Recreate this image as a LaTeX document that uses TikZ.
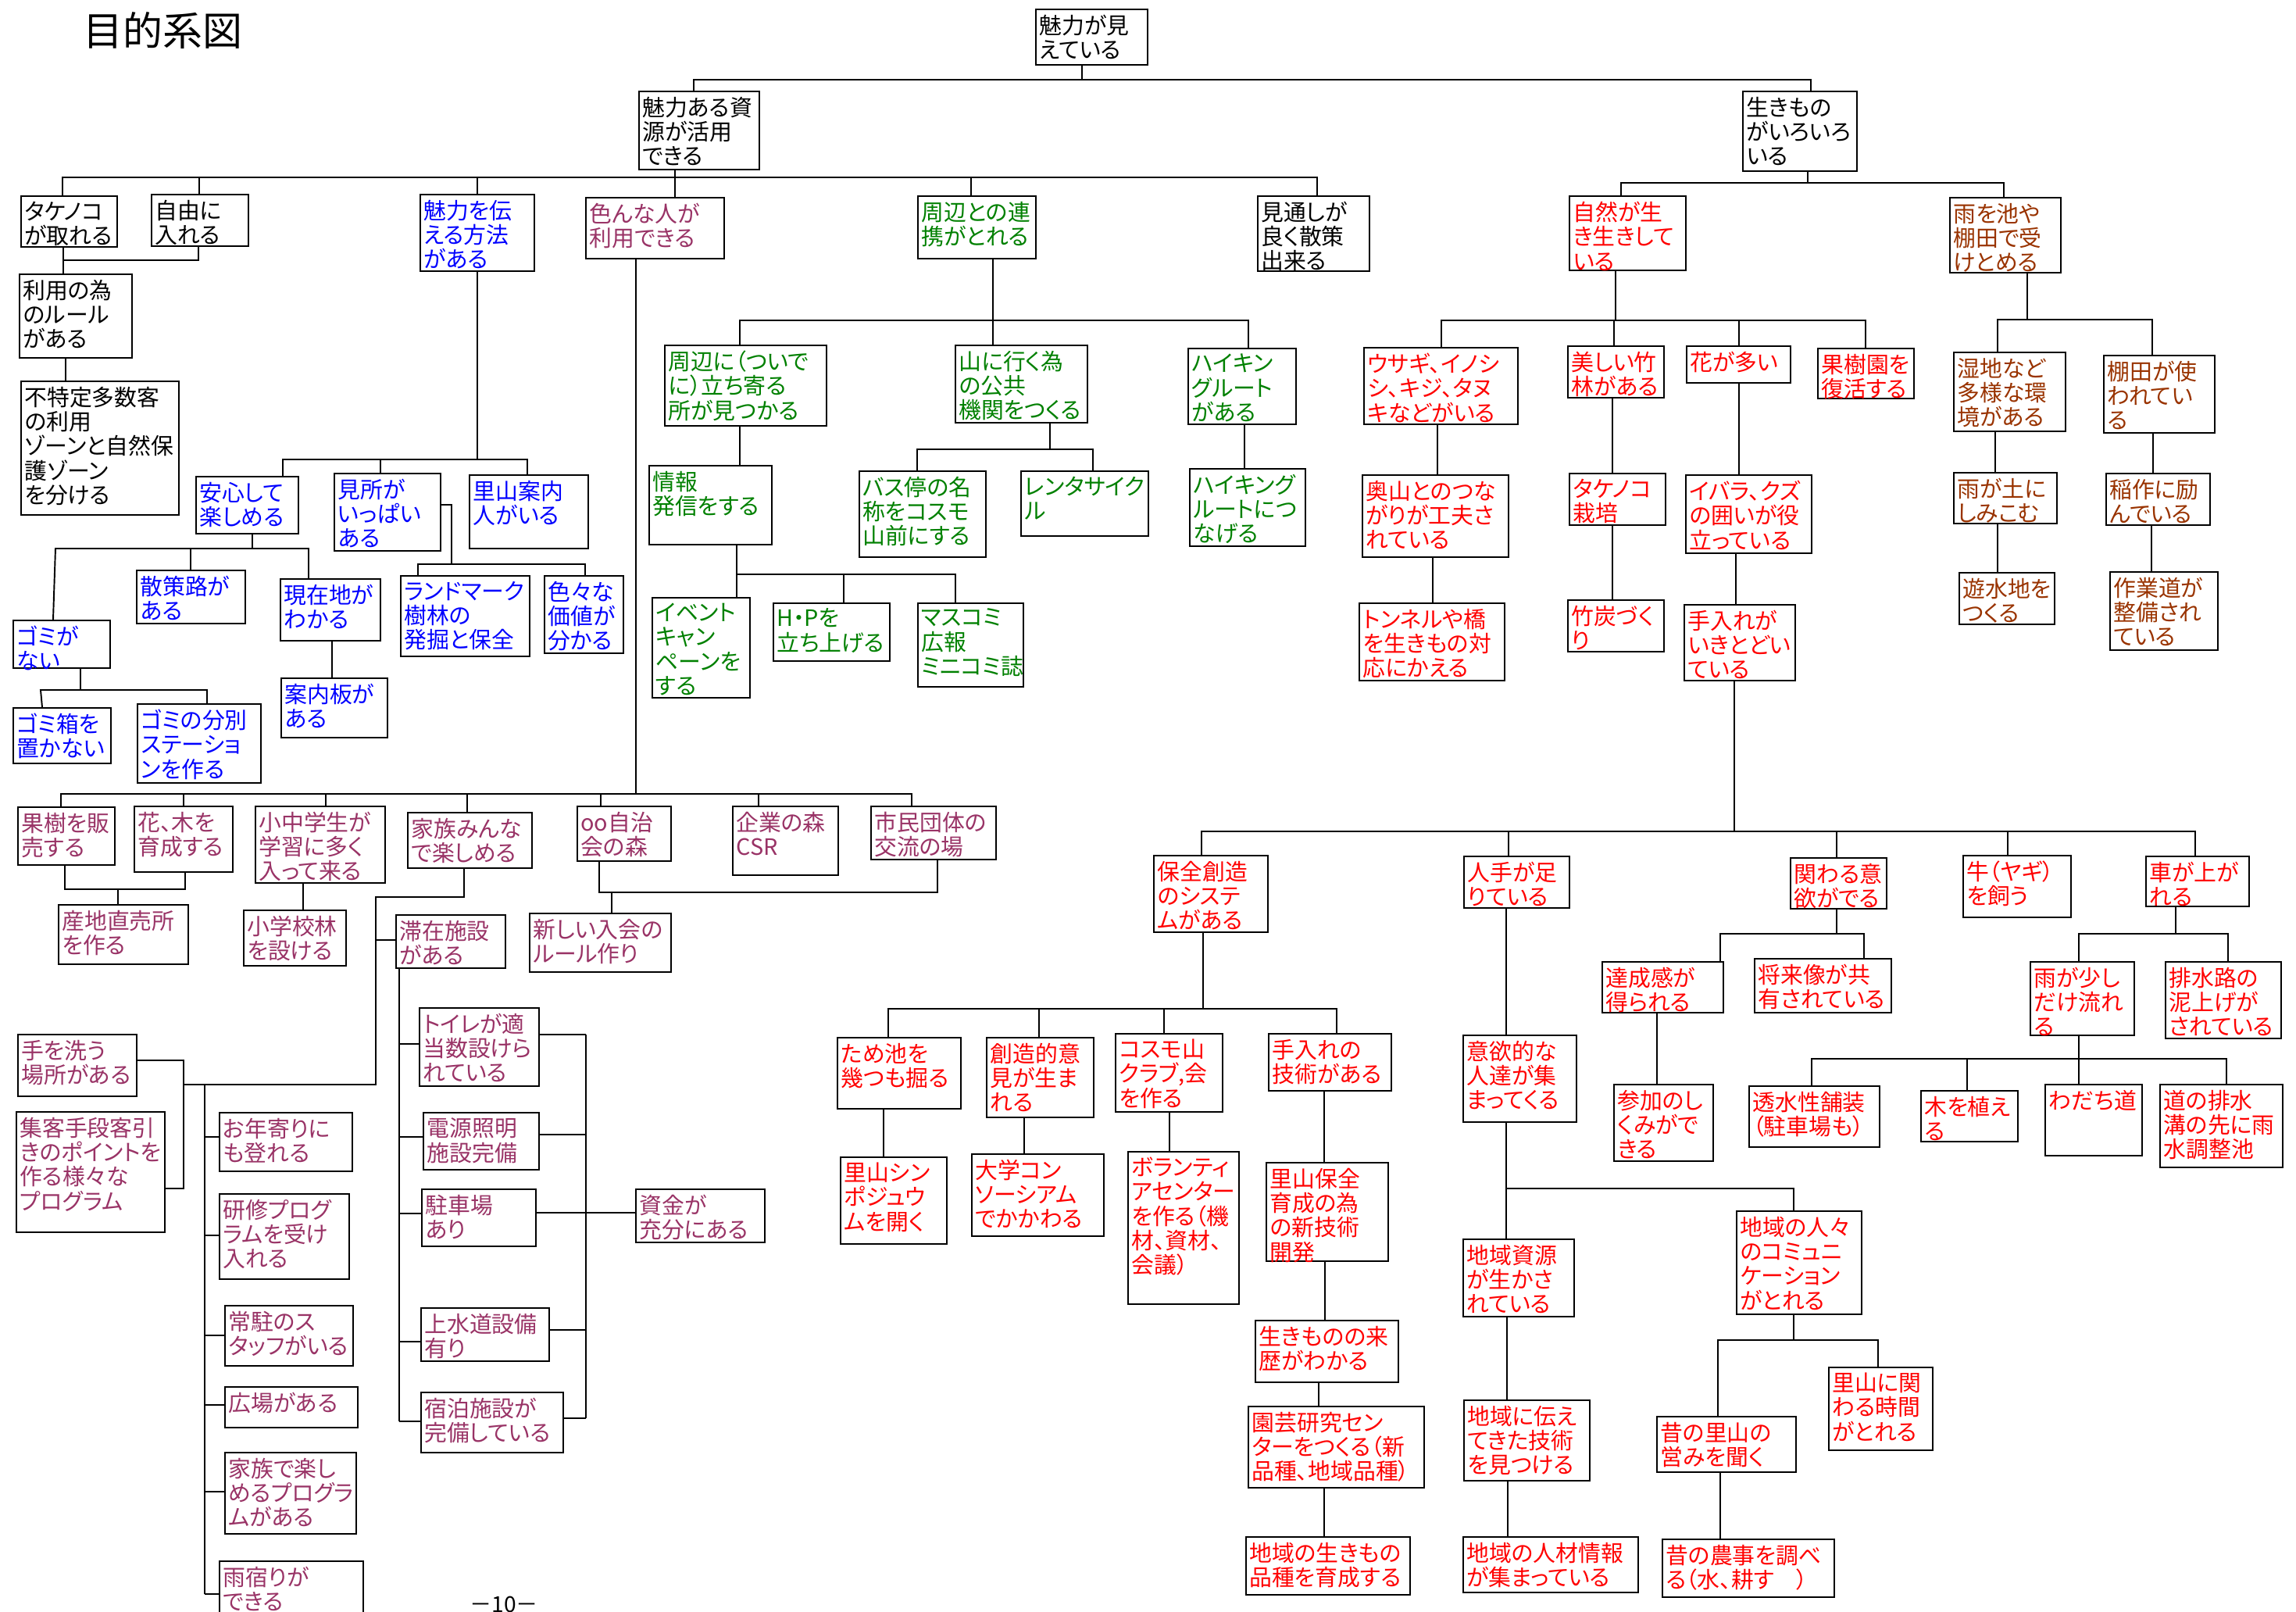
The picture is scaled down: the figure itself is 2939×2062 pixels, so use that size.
\documentclass[tikz,border=0pt]{standalone}
\usepackage{fontspec}
\setmainfont{Noto Sans CJK JP}[RawFeature=+palt]
\usetikzlibrary{fit}

\definecolor{bluet}{RGB}{0,0,255}
\definecolor{plum}{RGB}{153,51,102}
\definecolor{leaf}{RGB}{0,128,0}
\definecolor{redt}{RGB}{255,0,0}
\definecolor{rust}{RGB}{153,51,0}

\tikzset{
  goalbox/.style={draw, line width=0.6pt, inner sep=0pt},
  goaltext/.style={anchor=north west, align=left, inner xsep=1.3pt, inner ysep=2pt,
    font=\fontsize{8.2}{8.9}\selectfont},
  link/.style={line width=0.55pt}
}
% box: [colour]{name}{x1}{y1}{x2}{y2}{text}
\newcommand{\goal}[7][black]{%
  \node[goalbox, fit={(#3,#4) (#5,#6)}] (#2) {};
  \node[goaltext, text=#1] at (#2.north west) {#7};
}

\begin{document}
\begin{tikzpicture}[x=0.01cm, y=-0.01cm, link]
    \useasboundingbox (0,0) rectangle (2939,2062);
    \node[anchor=west, inner sep=0pt, font=\fontsize{14.5}{16}\selectfont] (title) at (106,39) {目的系図};
    \node[font=\fontsize{8}{9}\selectfont] (pageno) at (645,2053) {－10－};

    % top
    \goal{top}{1326}{12}{1469}{83}{魅力が見\\えている}
    \goal{shigen}{818}{117}{972}{217}{魅力ある資\\源が活用\\できる}
    \goal{ikimono}{2231}{117}{2377}{219}{生きもの\\がいろいろ\\いる}
    \goal{takenoko}{27}{251}{150}{316}{タケノコ\\が取れる}
    \goal{jiyu}{194}{249}{318}{315}{自由に\\入れる}
    \goal{rule}{25}{351}{169}{458}{利用の為\\のルール\\がある}
    \goal{zone}{27}{488}{229}{659}{不特定多数客\\の利用\\ゾーンと自然保\\護ゾーン\\を分ける}
    \goal{mitoshi}{1610}{251}{1753}{347}{見通しが\\良く散策\\出来る}

    % blue
    \goal[bluet]{tsutaeru}{538}{249}{684}{347}{魅力を伝\\える方法\\がある}
    \goal[bluet]{anshin}{251}{610}{382}{683}{安心して\\楽しめる}
    \goal[bluet]{midokoro}{428}{606}{564}{705}{見所が\\いっぱい\\ある}
    \goal[bluet]{annainin}{601}{608}{753}{702}{里山案内\\人がいる}
    \goal[bluet]{gomi}{17}{794}{141}{855}{ゴミが\\ない}
    \goal[bluet]{sansaku}{175}{730}{314}{798}{散策路が\\ある}
    \goal[bluet]{genzai}{359}{741}{487}{820}{現在地が\\わかる}
    \goal[bluet]{landmark}{513}{737}{678}{840}{ランドマーク\\樹林の\\発掘と保全}
    \goal[bluet]{kachi}{697}{737}{798}{836}{色々な\\価値が\\分かる}
    \goal[bluet]{gomibako}{17}{906}{142}{977}{ゴミ箱を\\置かない}
    \goal[bluet]{bunbetsu}{176}{901}{334}{1002}{ゴミの分別\\ステーショ\\ンを作る}
    \goal[bluet]{annaiban}{360}{868}{496}{944}{案内板が\\ある}

    % plum
    \goal[plum]{iron}{750}{253}{927}{331}{色んな人が\\利用できる}
    \goal[plum]{kaju}{23}{1033}{147}{1107}{果樹を販\\売する}
    \goal[plum]{hanaki}{172}{1032}{298}{1116}{花、木を\\育成する}
    \goal[plum]{shochu}{327}{1032}{493}{1130}{小中学生が\\学習に多く\\入って来る}
    \goal[plum]{kazoku}{522}{1040}{681}{1111}{家族みんな\\で楽しめる}
    \goal[plum]{jichikai}{739}{1032}{859}{1102}{oo自治\\会の森}
    \goal[plum]{kigyo}{938}{1032}{1073}{1120}{企業の森\\CSR}
    \goal[plum]{shimin}{1115}{1032}{1275}{1100}{市民団体の\\交流の場}
    \goal[plum]{chokubai}{75}{1158}{241}{1234}{産地直売所\\を作る}
    \goal[plum]{gakkorin}{312}{1165}{443}{1236}{小学校林\\を設ける}
    \goal[plum]{nyukai}{678}{1169}{859}{1244}{新しい入会の\\ルール作り}
    \goal[plum]{taizai}{507}{1171}{647}{1239}{滞在施設\\がある}
    \goal[plum]{tearai}{23}{1324}{175}{1403}{手を洗う\\場所がある}
    \goal[plum]{shukyaku}{21}{1423}{211}{1577}{集客手段客引\\きのポイントを\\作る様々な\\プログラム}
    \goal[plum]{otoshiyori}{281}{1424}{451}{1499}{お年寄りに\\も登れる}
    \goal[plum]{kenshu}{281}{1528}{447}{1637}{研修プログ\\ラムを受け\\入れる}
    \goal[plum]{jochu}{288}{1671}{452}{1748}{常駐のス\\タッフがいる}
    \goal[plum]{hiroba}{288}{1775}{458}{1827}{広場がある}
    \goal[plum]{kazokuprog}{288}{1859}{456}{1963}{家族で楽し\\めるプログラ\\ムがある}
    \goal[plum]{amayadori}{281}{1998}{465}{2075}{雨宿りが\\できる}
    \goal[plum]{toilet}{537}{1290}{690}{1390}{トイレが適\\当数設けら\\れている}
    \goal[plum]{dengen}{542}{1424}{690}{1497}{電源照明\\施設完備}
    \goal[plum]{chushajo}{540}{1522}{686}{1595}{駐車場\\あり}
    \goal[plum]{josuido}{539}{1674}{703}{1742}{上水道設備\\有り}
    \goal[plum]{shukuhaku}{539}{1782}{721}{1859}{宿泊施設が\\完備している}
    \goal[plum]{shikin}{814}{1522}{979}{1590}{資金が\\充分にある}

    % leaf
    \goal[leaf]{renkei}{1175}{251}{1326}{331}{周辺との連\\携がとれる}
    \goal[leaf]{tachiyoru}{851}{442}{1058}{545}{周辺に（ついで\\に）立ち寄る\\所が見つかる}
    \goal[leaf]{yamani}{1223}{442}{1392}{541}{山に行く為\\の公共\\機関をつくる}
    \goal[leaf]{hiking}{1521}{446}{1659}{543}{ハイキン\\グルート\\がある}
    \goal[leaf]{joho}{831}{596}{988}{697}{情報\\発信をする}
    \goal[leaf]{busstop}{1100}{603}{1262}{713}{バス停の名\\称をコスモ\\山前にする}
    \goal[leaf]{rental}{1307}{603}{1470}{686}{レンタサイク\\ル}
    \goal[leaf]{hikingroute}{1523}{600}{1671}{699}{ハイキング\\ルートにつ\\なげる}
    \goal[leaf]{event}{835}{765}{960}{893}{イベント\\キャン\\ペーンを\\する}
    \goal[leaf]{hp}{990}{772}{1139}{846}{H・Pを\\立ち上げる}
    \goal[leaf]{masukomi}{1175}{772}{1310}{879}{マスコミ\\広報\\ミニコミ誌}

    % red
    \goal[redt]{shizen}{2009}{251}{2158}{346}{自然が生\\き生きして\\いる}
    \goal[redt]{usagi}{1746}{445}{1943}{543}{ウサギ、イノシ\\シ、キジ、タヌ\\キなどがいる}
    \goal[redt]{chikurin}{2007}{443}{2130}{509}{美しい竹\\林がある}
    \goal[redt]{hana}{2159}{443}{2292}{490}{花が多い}
    \goal[redt]{kajuen}{2327}{446}{2450}{510}{果樹園を\\復活する}
    \goal[redt]{okuyama}{1744}{608}{1931}{713}{奥山とのつな\\がりが工夫さ\\れている}
    \goal[redt]{tonneru}{1740}{772}{1926}{871}{トンネルや橋\\を生きもの対\\応にかえる}
    \goal[redt]{saibai}{2009}{606}{2132}{672}{タケノコ\\栽培}
    \goal[redt]{chikutan}{2007}{768}{2130}{834}{竹炭づく\\り}
    \goal[redt]{ibara}{2158}{608}{2319}{708}{イバラ、クズ\\の囲いが役\\立っている}
    \goal[redt]{teire}{2156}{774}{2298}{871}{手入れが\\いきとどい\\ている}
    \goal[redt]{hozen}{1477}{1095}{1623}{1193}{保全創造\\のシステ\\ムがある}
    \goal[redt]{hitode}{1874}{1096}{2009}{1162}{人手が足\\りている}
    \goal[redt]{kakawaru}{2292}{1098}{2415}{1163}{関わる意\\欲がでる}
    \goal[redt]{ushi}{2513}{1095}{2651}{1174}{牛（ヤギ）\\を飼う}
    \goal[redt]{kuruma}{2747}{1096}{2879}{1160}{車が上が\\れる}
    \goal[redt]{tameike}{1072}{1328}{1230}{1419}{ため池を\\幾つも掘る}
    \goal[redt]{sozo}{1263}{1328}{1400}{1430}{創造的意\\見が生ま\\れる}
    \goal[redt]{cosmo}{1428}{1323}{1565}{1423}{コスモ山\\クラブ,会\\を作る}
    \goal[redt]{gijutsu}{1624}{1323}{1781}{1396}{手入れの\\技術がある}
    \goal[redt]{iyoku}{1873}{1325}{2018}{1436}{意欲的な\\人達が集\\まってくる}
    \goal[redt]{tassei}{2051}{1231}{2206}{1296}{達成感が\\得られる}
    \goal[redt]{shorai}{2246}{1227}{2421}{1296}{将来像が共\\有されている}
    \goal[redt]{amesukoshi}{2599}{1231}{2732}{1325}{雨が少し\\だけ流れ\\る}
    \goal[redt]{haisuiro}{2772}{1231}{2920}{1329}{排水路の\\泥上げが\\されている}
    \goal[redt]{symposium}{1076}{1481}{1212}{1592}{里山シン\\ポジュウ\\ムを開く}
    \goal[redt]{daigaku}{1244}{1477}{1413}{1582}{大学コン\\ソーシアム\\でかかわる}
    \goal[redt]{volunteer}{1444}{1474}{1586}{1669}{ボランティ\\アセンター\\を作る（機\\材、資材、\\会議）}
    \goal[redt]{shingijutsu}{1621}{1488}{1777}{1614}{里山保全\\育成の為\\の新技術\\開発}
    \goal[redt]{raireki}{1607}{1690}{1790}{1769}{生きものの来\\歴がわかる}
    \goal[redt]{engei}{1598}{1800}{1823}{1904}{園芸研究セン\\ターをつくる（新\\品種、地域品種）}
    \goal[redt]{hinshu}{1595}{1967}{1805}{2041}{地域の生きもの\\品種を育成する}
    \goal[redt]{sanka}{2066}{1388}{2193}{1486}{参加のし\\くみがで\\きる}
    \goal[redt]{toshui}{2239}{1390}{2406}{1468}{透水性舗装\\（駐車場も）}
    \goal[redt]{kiwo}{2459}{1396}{2583}{1461}{木を植え\\る}
    \goal[redt]{wadachi}{2618}{1388}{2742}{1479}{わだち道}
    \goal[redt]{chosei}{2765}{1388}{2922}{1494}{道の排水\\溝の先に雨\\水調整池}
    \goal[redt]{chiikishigen}{1873}{1586}{2015}{1685}{地域資源\\が生かさ\\れている}
    \goal[redt]{tsutaete}{1874}{1792}{2035}{1895}{地域に伝え\\てきた技術\\を見つける}
    \goal[redt]{jinzai}{1873}{1967}{2097}{2038}{地域の人材情報\\が集まっている}
    \goal[redt]{komyu}{2223}{1550}{2383}{1682}{地域の人々\\のコミュニ\\ケーション\\がとれる}
    \goal[redt]{mukashi}{2121}{1813}{2299}{1884}{昔の里山の\\営みを聞く}
    \goal[redt]{jikan}{2341}{1750}{2474}{1856}{里山に関\\わる時間\\がとれる}
    \goal[redt]{nouji}{2128}{1970}{2348}{2044}{昔の農事を調べ\\る（水、耕す　）}

    % rust
    \goal[rust]{amewo}{2496}{253}{2638}{349}{雨を池や\\棚田で受\\けとめる}
    \goal[rust]{shicchi}{2501}{451}{2644}{552}{湿地など\\多様な環\\境がある}
    \goal[rust]{tanada}{2693}{455}{2835}{554}{棚田が使\\われてい\\る}
    \goal[rust]{shimikomu}{2501}{605}{2633}{670}{雨が土に\\しみこむ}
    \goal[rust]{inasaku}{2696}{606}{2829}{672}{稲作に励\\んでいる}
    \goal[rust]{yusuichi}{2508}{733}{2630}{799}{遊水地を\\つくる}
    \goal[rust]{sagyodo}{2701}{732}{2839}{832}{作業道が\\整備され\\ている}

    % top level links
    \draw (top.south -| 1385,0) -- (1385,102);
    \draw (shigen.north -| 888,0) -- (888,102) -- (2318,102) -- (ikimono.north -| 2318,0);
    \draw (shigen.south -| 864,0) -- (iron.north -| 864,0);
    \draw (takenoko.north -| 80,0) -- (80,227) -- (1686,227) -- (mitoshi.north -| 1686,0);
    \foreach \n/\x in {jiyu/255, tsutaeru/611, renkei/1243}
        \draw (\n.north -| \x,0) -- (\x,227);
    \draw (ikimono.south -| 2314,0) -- (2314,234);
    \draw (shizen.north -| 2075,0) -- (2075,234) -- (2565,234) -- (amewo.north -| 2565,0);

    % black branch
    \draw (takenoko.south -| 81,0) -- (rule.north -| 81,0);
    \draw (jiyu.south -| 254,0) -- (254,333) -- (81,333);
    \draw (rule.south -| 84,0) -- (zone.north -| 84,0);

    % blue branch
    \draw (tsutaeru.south -| 611,0) -- (611,588);
    \draw (anshin.north -| 362,0) -- (362,588) -- (675,588) -- (annainin.north -| 675,0);
    \draw (midokoro.north -| 487,0) -- (487,588);
    \draw (midokoro.east |- 0,646) -- (578,646) -- (578,722);
    \draw (landmark.north -| 535,0) -- (535,722) -- (749,722) -- (kachi.north -| 749,0);
    \draw (anshin.south -| 323,0) -- (323,702);
    \draw (gomi.north -| 68,0) -- (71,702) -- (395,702) -- (genzai.north -| 395,0);
    \draw (sansaku.north -| 244,0) -- (244,702);
    \draw (gomi.south -| 103,0) -- (103,883);
    \draw (gomibako.north -| 54,0) -- (52,883) -- (265,883) -- (bunbetsu.north -| 265,0);
    \draw (genzai.south -| 425,0) -- (annaiban.north -| 425,0);

    % plum branch
    \draw (iron.south -| 814,0) -- (814,1016);
    \draw (kaju.north -| 78,0) -- (78,1016) -- (1167,1016) -- (shimin.north -| 1167,0);
    \foreach \n/\x in {hanaki/235, shochu/417, kazoku/598, jichikai/769, kigyo/971}
        \draw (\n.north -| \x,0) -- (\x,1016);
    \draw (kaju.south -| 83,0) -- (83,1138) -- (237,1138) -- (hanaki.south -| 237,0);
    \draw (151,1138) -- (chokubai.north -| 151,0);
    \draw (shochu.south -| 388,0) -- (gakkorin.north -| 388,0);
    \draw (jichikai.south -| 767,0) -- (767,1142) -- (1200,1142) -- (shimin.south -| 1200,0);
    \draw (783,1142) -- (nyukai.north -| 783,0);
    \draw (kazoku.south -| 594,0) -- (594,1148) -- (481,1148) -- (481,1388) -- (235,1388);
    \draw (taizai.west |- 0,1203) -- (481,1203);
    \draw (tearai.east |- 0,1357) -- (235,1357) -- (235,1521) -- (shukyaku.east |- 0,1521);
    \draw (262,1388) -- (262,2040);
    \foreach \n/\y in {otoshiyori/1455, kenshu/1581, jochu/1709, hiroba/1798, kazokuprog/1909, amayadori/2040}
        \draw (262,\y) -- (\n.west |- 0,\y);
    \draw (taizai.south -| 511,0) -- (511,1819);
    \foreach \n/\y in {toilet/1336, dengen/1455, chushajo/1553, josuido/1717, shukuhaku/1819}
        \draw (511,\y) -- (\n.west |- 0,\y);
    \foreach \n/\y in {toilet/1324, dengen/1452, chushajo/1552, josuido/1702, shukuhaku/1815}
        \draw (\n.east |- 0,\y) -- (750,\y);
    \draw (750,1324) -- (750,1815);
    \draw (750,1552) -- (shikin.west |- 0,1552);

    % leaf branch
    \draw (renkei.south -| 1271,0) -- (yamani.north -| 1271,0);
    \draw (tachiyoru.north -| 947,0) -- (947,410) -- (1598,410) -- (hiking.north -| 1598,0);
    \draw (tachiyoru.south -| 947,0) -- (joho.north -| 947,0);
    \draw (joho.south -| 943,0) -- (event.north -| 943,0);
    \draw (943,735) -- (1223,735) -- (masukomi.north -| 1223,0);
    \draw (hp.north -| 1080,0) -- (1080,735);
    \draw (yamani.south -| 1344,0) -- (1344,575);
    \draw (busstop.north -| 1174,0) -- (1174,575) -- (1399,575) -- (rental.north -| 1399,0);
    \draw (hiking.south -| 1593,0) -- (hikingroute.north -| 1593,0);

    % red branch
    \draw (shizen.south -| 2068,0) -- (2068,410);
    \draw (usagi.north -| 1845,0) -- (1845,410) -- (2388,410) -- (kajuen.north -| 2388,0);
    \foreach \n/\x in {chikurin/2066, hana/2226}
        \draw (\n.north -| \x,0) -- (\x,410);
    \draw (usagi.south -| 1840,0) -- (okuyama.north -| 1840,0);
    \draw (okuyama.south -| 1834,0) -- (tonneru.north -| 1834,0);
    \draw (chikurin.south -| 2064,0) -- (saibai.north -| 2064,0);
    \draw (saibai.south -| 2064,0) -- (chikutan.north -| 2064,0);
    \draw (hana.south -| 2226,0) -- (ibara.north -| 2226,0);
    \draw (ibara.south -| 2222,0) -- (teire.north -| 2222,0);
    \draw (teire.south -| 2220,0) -- (2220,1064);
    \draw (hozen.north -| 1538,0) -- (1538,1064) -- (2810,1064) -- (kuruma.north -| 2810,0);
    \foreach \n/\x in {hitode/1931, kakawaru/2351, ushi/2570}
        \draw (\n.north -| \x,0) -- (\x,1064);
    \draw (hozen.south -| 1540,0) -- (1540,1291);
    \draw (tameike.north -| 1137,0) -- (1137,1291) -- (1711,1291) -- (gijutsu.north -| 1711,0);
    \foreach \n/\x in {sozo/1330, cosmo/1490}
        \draw (\n.north -| \x,0) -- (\x,1291);
    \draw (tameike.south -| 1131,0) -- (symposium.north -| 1131,0);
    \draw (sozo.south -| 1311,0) -- (daigaku.north -| 1311,0);
    \draw (cosmo.south -| 1497,0) -- (volunteer.north -| 1497,0);
    \draw (gijutsu.south -| 1695,0) -- (shingijutsu.north -| 1695,0);
    \draw (shingijutsu.south -| 1696,0) -- (raireki.north -| 1696,0);
    \draw (raireki.south -| 1688,0) -- (engei.north -| 1688,0);
    \draw (engei.south -| 1695,0) -- (hinshu.north -| 1695,0);
    \draw (hitode.south -| 1928,0) -- (iyoku.north -| 1928,0);
    \draw (iyoku.south -| 1928,0) -- (chiikishigen.north -| 1928,0);
    \draw (1928,1521) -- (2296,1521) -- (komyu.north -| 2296,0);
    \draw (chiikishigen.south -| 1929,0) -- (tsutaete.north -| 1929,0);
    \draw (tsutaete.south -| 1930,0) -- (jinzai.north -| 1930,0);
    \draw (komyu.south -| 2296,0) -- (2296,1715);
    \draw (mukashi.north -| 2199,0) -- (2199,1715) -- (2404,1715) -- (jikan.north -| 2404,0);
    \draw (mukashi.south -| 2202,0) -- (nouji.north -| 2202,0);
    \draw (kakawaru.south -| 2351,0) -- (2351,1195);
    \draw (tassei.north -| 2202,0) -- (2202,1195) -- (2386,1195) -- (shorai.north -| 2386,0);
    \draw (tassei.south -| 2121,0) -- (sanka.north -| 2121,0);
    \draw (kuruma.south -| 2785,0) -- (2785,1195);
    \draw (amesukoshi.north -| 2661,0) -- (2661,1195) -- (2852,1195) -- (haisuiro.north -| 2852,0);
    \draw (amesukoshi.south -| 2661,0) -- (2661,1355);
    \draw (toshui.north -| 2319,0) -- (2319,1355) -- (2850,1355) -- (chosei.north -| 2850,0);
    \foreach \n/\x in {kiwo/2518, wadachi/2661}
        \draw (\n.north -| \x,0) -- (\x,1355);

    % rust branch
    \draw (amewo.south -| 2595,0) -- (2595,409);
    \draw (shicchi.north -| 2557,0) -- (2557,409) -- (2755,409) -- (tanada.north -| 2755,0);
    \draw (shicchi.south -| 2554,0) -- (shimikomu.north -| 2554,0);
    \draw (shimikomu.south -| 2557,0) -- (yusuichi.north -| 2557,0);
    \draw (tanada.south -| 2756,0) -- (inasaku.north -| 2756,0);
    \draw (inasaku.south -| 2754,0) -- (sagyodo.north -| 2754,0);
\end{tikzpicture}
\end{document}
